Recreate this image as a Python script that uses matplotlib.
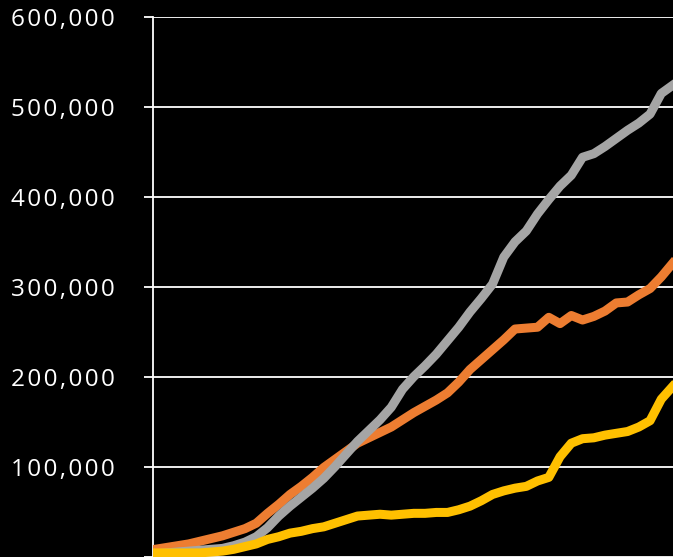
import numpy as np
import matplotlib.pyplot as plt
from matplotlib.ticker import FuncFormatter

# values in thousands
periods = np.arange(47)

orange_k = [8, 10, 12, 14, 17, 20, 23, 27, 31, 37,
            48, 58, 69, 78, 88, 99, 108, 117, 126, 132,
            138, 144, 152, 160, 167, 174, 182, 194, 208, 219,
            230, 241, 253, 254, 255, 266, 259, 268, 263, 267,
            273, 282, 283, 291, 298, 311, 326]
gray_k = [3, 4, 5, 6, 7, 8, 9, 12, 16, 22,
          32, 45, 56, 66, 76, 87, 100, 114, 128, 140,
          152, 166, 186, 200, 212, 225, 240, 255, 272, 287,
          303, 333, 350, 362, 381, 397, 412, 424, 444, 448,
          456, 465, 474, 482, 492, 515, 524]
yellow_k = [4, 4, 4, 4, 4, 5, 6, 8, 11, 14,
            19, 22, 26, 28, 31, 33, 37, 41, 45, 46,
            47, 46, 47, 48, 48, 49, 49, 52, 56, 62,
            69, 73, 76, 78, 84, 88, 111, 126, 131, 132,
            135, 137, 139, 144, 151, 175, 189]

y_ticks = [0, 100000, 200000, 300000, 400000, 500000, 600000]

orange = np.array(orange_k) * 1000
gray = np.array(gray_k) * 1000
yellow = np.array(yellow_k) * 1000


def fmt(v, pos):
    # letter-spaced labels, like the original
    if v == 0:
        return '-'
    return '\u200a'.join(f'{int(v):,}')


fig = plt.figure(figsize=(6.73, 5.57), dpi=100, facecolor='black')
ax = fig.add_axes([153 / 673, 0.5 / 557, 520 / 673, 539.5 / 557])
ax.set_facecolor('black')

lw = 6.5
ax.plot(periods, orange, color='#ED7D31', lw=lw, solid_joinstyle='round', zorder=3)
ax.plot(periods, gray, color='#A5A5A5', lw=lw, solid_joinstyle='round', zorder=4)
ax.plot(periods, yellow, color='#FFC000', lw=lw, solid_joinstyle='round', zorder=5)

ax.set_xlim(-0.178, 46.04)
ax.set_ylim(0, 600000)
ax.set_yticks(y_ticks)
ax.yaxis.set_major_formatter(FuncFormatter(fmt))
ax.set_xticks([])

ax.grid(axis='y', color='white', lw=1.3, zorder=1)
ax.tick_params(axis='y', colors='white', length=6.5, width=1.3, pad=21, labelsize=17.5)
for lab in ax.get_yticklabels():
    lab.set_color('white')
    lab.set_family(['Open Sans', 'DejaVu Sans'])

for side in ['top', 'right', 'bottom']:
    ax.spines[side].set_visible(False)
ax.spines['left'].set_color('white')
ax.spines['left'].set_linewidth(1.3)

fig.savefig('out.png', dpi=100, facecolor='black')
